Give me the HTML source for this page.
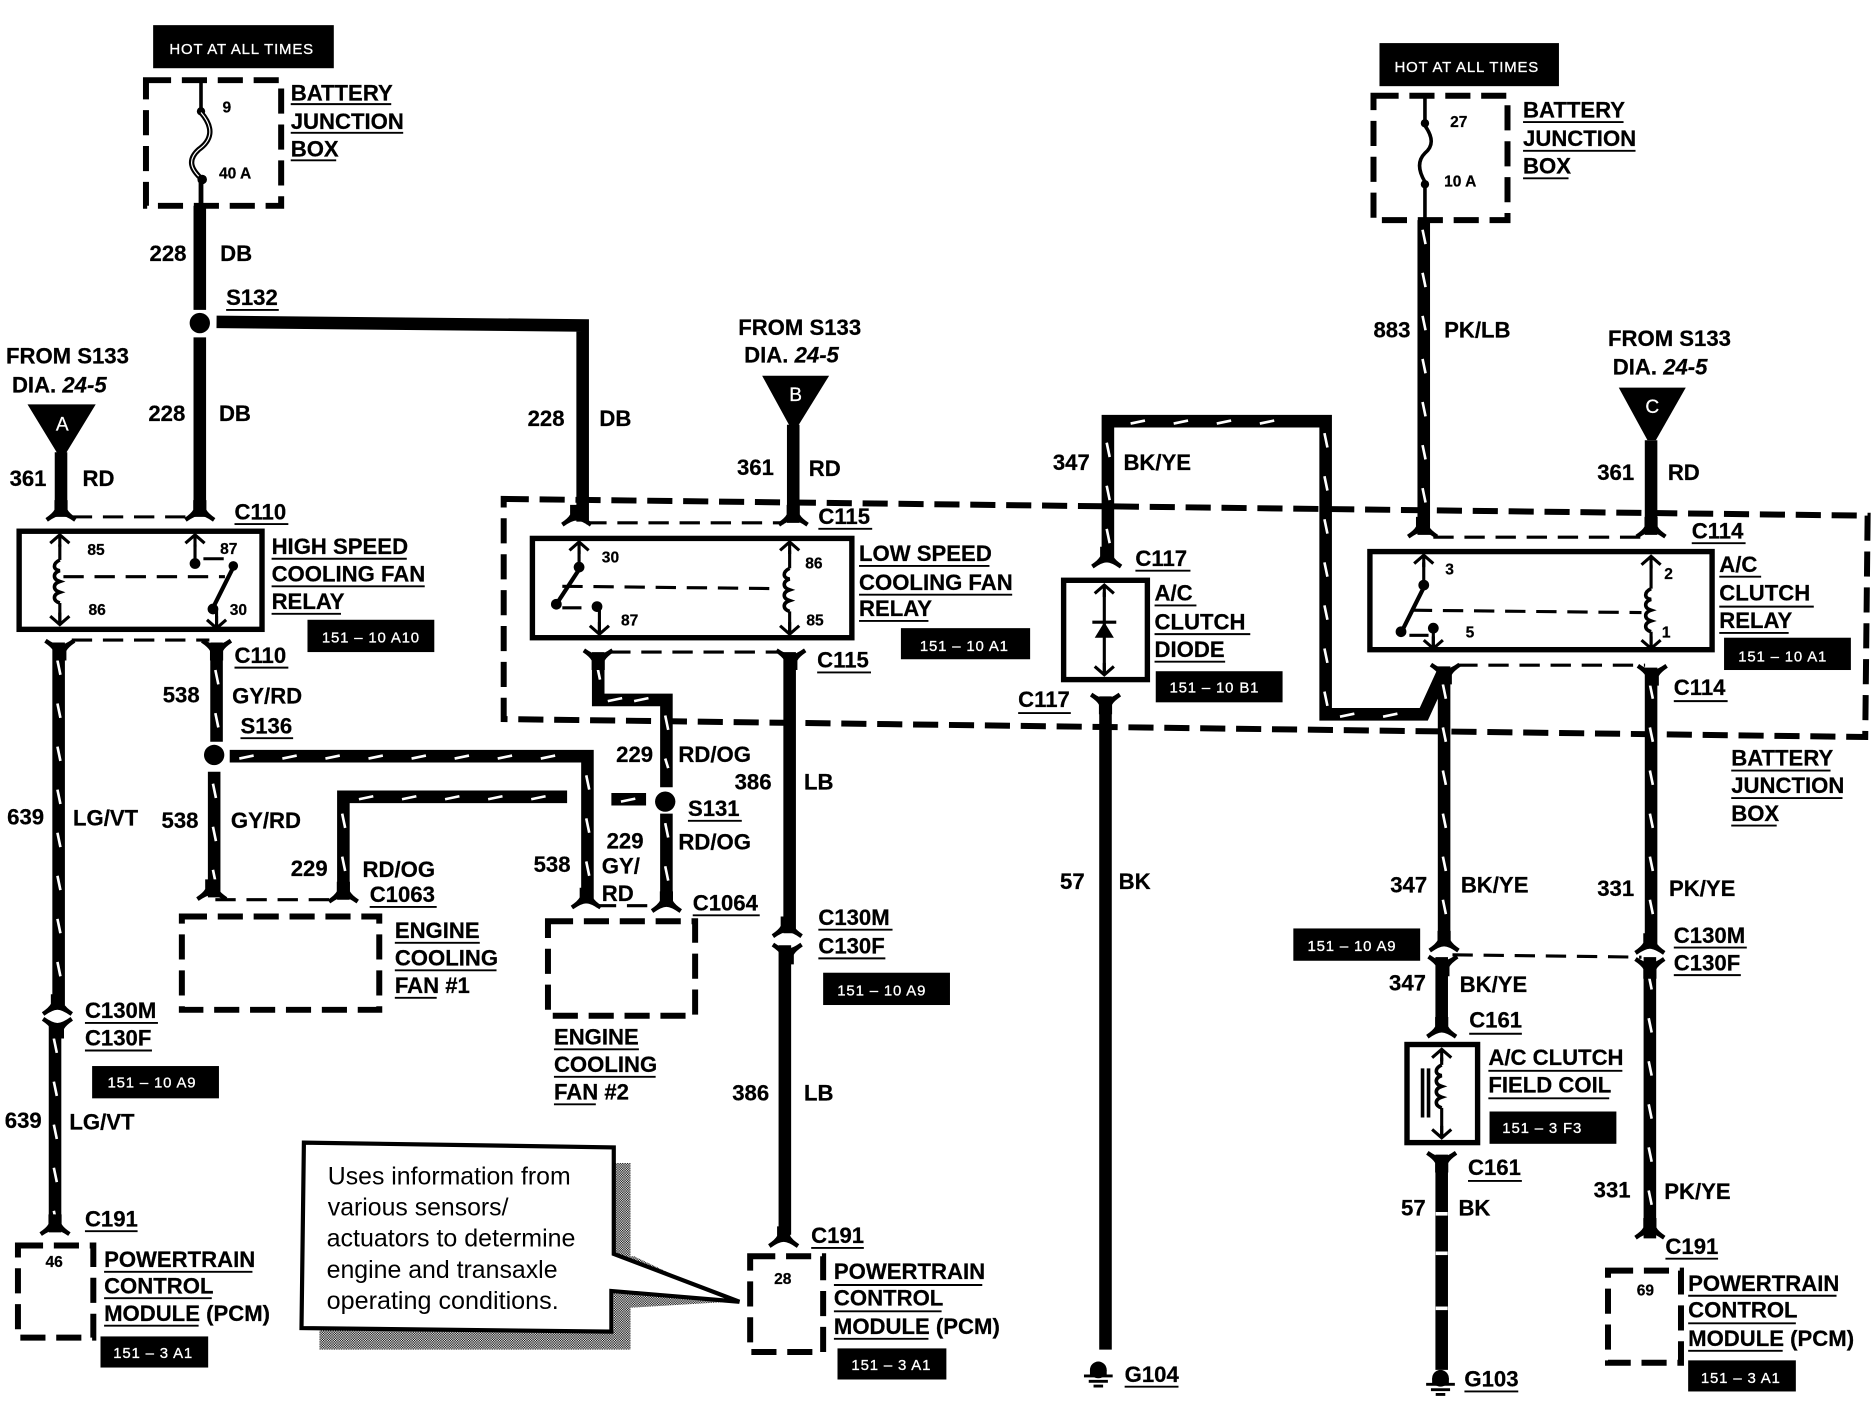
<!DOCTYPE html>
<html lang="en"><head><meta charset="utf-8"><title>Cooling fan wiring diagram</title>
<style>
html,body{margin:0;padding:0;background:#fff}
svg{display:block}
text{font-family:"Liberation Sans",sans-serif;font-weight:700;font-size:18.5px;fill:#000;stroke:#000;stroke-width:.2}
.s{font-size:13px}
.w{fill:#fff;font-size:12.5px;font-weight:400;letter-spacing:.7px;text-anchor:middle;stroke:#fff;stroke-width:.25}
.i{font-style:italic;font-weight:700}
.n{font-weight:400;font-size:20.5px;stroke-width:0}
.u{fill:none;stroke:#000;stroke-width:1.6}
.wire{fill:none;stroke:#000;stroke-width:10.5;stroke-linejoin:miter}
.st{fill:none;stroke:#fff;stroke-width:2.2}
.d{fill:none;stroke:#000;stroke-width:5;stroke-dasharray:21 9}
.d2{fill:none;stroke:#000;stroke-width:2.6;stroke-dasharray:17 9}
.bx{fill:none;stroke:#000;stroke-width:4.5}
.l{fill:none;stroke:#000;stroke-width:2.6}
.c{fill:none;stroke:#000;stroke-width:3}
</style></head><body>
<svg xmlns="http://www.w3.org/2000/svg" width="1876" height="1408" viewBox="0 0 1568 1176.8">
<defs>
<pattern id="g" width="2" height="2" patternUnits="userSpaceOnUse"><rect width="2" height="2" fill="#fff"/><rect width="1" height="1" fill="#000"/><rect x="1" y="1" width="1" height="1" fill="#000"/></pattern>
<g id="fu"><path d="M-5.500 -12V-4Q-7 -1 -13 3L-11 6Q-4 1 0 1Q4 1 11 6L13 3Q7 -1 5.500 -4V-12Z"/></g>
<g id="fd"><path d="M-5.500 12V4Q-7 1 -13 -3L-11 -6Q-4 -1 0 -1Q4 -1 11 -6L13 -3Q7 1 5.500 4V12Z"/></g>
<g id="ar"><path class="l" d="M-8 7L0 0L8 7M0 0V10"/></g>
<g id="ad"><path class="l" d="M-8 -7L0 0L8 -7M0 0V-10"/></g>
<g id="coil"><path class="c" d="M0 0C-6 3 -6 8 0 9C-6 11 -6 16 0 18C-6 20 -6 25 0 27C-6 29 -6 34 0 36"/></g>
<g id="gnd"><circle cx="0" cy="0" r="7"/><path d="M-12 5H12M-8 9.500H8M-4 13.500H4" stroke="#000" stroke-width="2.400" fill="none"/><rect x="-7" y="0" width="14" height="5"/></g>
</defs>

<!-- big junction box -->
<path class="d" d="M421 417L1561 431L1559 616L421 601Z"/>

<!-- solid wires -->
<path class="wire" d="M167 172V259M167 282V432M181 269L487 272V436M51 378V432M663 355V437M1380 368V447M660 545V780M656 790V1032M924 582V1128M1205 800V862M1205 965V1145M1190 184V447"/>
<path class="wire" d="M49 537V840M46 855V1030M181 537V620M179 645V750M192 632H491V755M287 752V666H474M511 668H540M557 750V680M557 658V585H500V545M926 470V352H1108V597H1190L1206 562M1207 557V790M1380 558V790M1379 800V1035"/>
<!-- tilted stripe ticks, vertical runs -->
<path class="st" d="M48 552l2.500 12m-2.500 24l2.500 12m-2.500 24l2.500 12m-2.500 24l2.500 12m-2.500 24l2.500 12m-2.500 24l2.500 12m-2.500 24l2.500 12m-2.500 24l2.500 12
M45 868l2.500 12m-2.500 24l2.500 12m-2.500 24l2.500 12m-2.500 24l2.500 12m-2.500 24l2.500 12
M180 560l2.500 12m-2.500 24l2.500 12
M178 655l2.500 12m-2.500 24l2.500 12m-2.500 24l2.500 12
M490 648l2.500 12m-2.500 24l2.500 12m-2.500 24l2.500 12
M286 680l2.500 12m-2.500 24l2.500 12
M556 598l2.500 12m-2.500 24l2.500 8M556 688l2.500 12m-2.500 24l2.500 12
M499 556l2.500 12
M925 370l2.500 12m-2.500 24l2.500 12m-2.500 24l2.500 12
M1107 362l2.500 12m-2.500 24l2.500 12m-2.500 24l2.500 12m-2.500 24l2.500 12m-2.500 24l2.500 12m-2.500 24l2.500 12m-2.500 24l2.500 12
M1206 572l2.500 12m-2.500 24l2.500 12m-2.500 24l2.500 12m-2.500 24l2.500 12m-2.500 24l2.500 12m-2.500 24l2.500 12
M1379 572l2.500 12m-2.500 24l2.500 12m-2.500 24l2.500 12m-2.500 24l2.500 12m-2.500 24l2.500 12m-2.500 24l2.500 12
M1378 815l2.500 12m-2.500 24l2.500 12m-2.500 24l2.500 12m-2.500 24l2.500 12m-2.500 24l2.500 12m-2.500 24l2.500 12
M1189 192l2.500 12m-2.500 24l2.500 12m-2.500 24l2.500 12m-2.500 24l2.500 12m-2.500 24l2.500 12m-2.500 24l2.500 12m-2.500 24l2.500 12"/>
<!-- tilted stripe ticks, horizontal runs -->
<path class="st" d="M200 634l12 -2.500m24 2.500l12 -2.500m24 2.500l12 -2.500m24 2.500l12 -2.500m24 2.500l12 -2.500m24 2.500l12 -2.500m24 2.500l12 -2.500m24 2.500l12 -2.500
M300 668l12 -2.500m24 2.500l12 -2.500m24 2.500l12 -2.500m24 2.500l12 -2.500m24 2.500l12 -2.500
M519 670l12 -2.500
M508 586l12 -2.500M530 586l12 -2.500
M945 354l12 -2.500m24 2.500l12 -2.500m24 2.500l12 -2.500m24 2.500l12 -2.500
M1120 599l12 -2.500m24 2.500l12 -2.500"/>
<rect x="1200" y="1013" width="10" height="3" fill="#fff"/><rect x="1200" y="1046" width="10" height="3" fill="#fff"/><rect x="1200" y="1092" width="10" height="3" fill="#fff"/>

<!-- splices -->
<circle cx="167" cy="270" r="8.500"/><circle cx="179" cy="631" r="8.500"/><circle cx="556" cy="670" r="8.500"/>

<!-- forks -->
<use href="#fu" x="51" y="430"/><use href="#fu" x="167" y="430"/><use href="#fu" x="482" y="434"/><use href="#fu" x="663" y="434"/>
<use href="#fu" x="1189" y="444"/><use href="#fu" x="1380" y="444"/><use href="#fu" x="925" y="469"/><use href="#fu" x="1205" y="862"/>
<use href="#fu" x="177" y="747"/><use href="#fu" x="287" y="749"/><use href="#fu" x="490" y="754"/><use href="#fu" x="557" y="757"/>
<use href="#fu" x="46" y="1027"/><use href="#fu" x="655" y="1037"/><use href="#fu" x="1379" y="1030"/>
<use href="#fu" x="658" y="778"/><use href="#fu" x="48" y="843"/><use href="#fu" x="1207" y="790"/><use href="#fu" x="1379" y="792"/>
<use href="#fd" x="50" y="540"/><use href="#fd" x="181" y="540"/><use href="#fd" x="500" y="548"/><use href="#fd" x="661" y="548"/>
<use href="#fd" x="1208" y="560"/><use href="#fd" x="1381" y="561"/><use href="#fd" x="924" y="585"/><use href="#fd" x="1205" y="968"/>
<use href="#fd" x="658" y="794"/><use href="#fd" x="48" y="856"/><use href="#fd" x="1206" y="804"/><use href="#fd" x="1379" y="806"/>

<!-- connector dashes -->
<path class="d2" d="M60 432H160M60 535H175M490 437H655M510 545H650M1198 449H1372M1218 556H1375M180 752H282M498 757H550M1214 798L1372 800"/>

<!-- HOT boxes -->
<rect x="128" y="21" width="151" height="36"/><text class="w" x="202" y="45">HOT AT ALL TIMES</text>
<rect x="1153" y="36" width="150" height="36"/><text class="w" x="1226" y="60">HOT AT ALL TIMES</text>

<!-- fuse boxes -->
<rect class="d" x="122" y="67" width="113" height="105"/>
<path d="M168 67V92" stroke="#000" stroke-width="3"/><circle cx="168" cy="93" r="3.500"/>
<path fill="none" stroke="#000" stroke-width="4.500" d="M168 94C180 108 176 118 166 125C156 134 160 142 169 150"/>
<path fill="none" stroke="#fff" stroke-width="1" d="M168 94C180 108 176 118 166 125C156 134 160 142 169 150"/>
<circle cx="169" cy="150" r="4"/>
<path d="M168 150V172" stroke="#000" stroke-width="4"/>
<text class="s" x="186" y="94">9</text><text class="s" x="183" y="149">40 A</text>
<rect class="d" x="1148" y="80" width="112" height="104"/>
<path d="M1191 82V103M1191 154V184" stroke="#000" stroke-width="3"/><circle cx="1191" cy="103" r="3.500"/><circle cx="1191" cy="154" r="3.500"/>
<path d="M1191 105C1198 115 1198 122 1191 128C1185 134 1185 142 1191 152" stroke="#000" stroke-width="3" fill="none"/>
<text class="s" x="1212" y="106">27</text><text class="s" x="1207" y="156">10 A</text>

<!-- triangles -->
<path d="M23 338H80L55 379H48Z"/><path d="M637 314H693L667 356H660Z"/><path d="M1353 324H1409L1384 368H1377Z"/>
<text x="52" y="360" text-anchor="middle" style="fill:#fff;stroke:#fff;font-weight:400;font-size:16px">A</text>
<text x="665" y="335" text-anchor="middle" style="fill:#fff;stroke:#fff;font-weight:400;font-size:16px">B</text>
<text x="1381" y="345" text-anchor="middle" style="fill:#fff;stroke:#fff;font-weight:400;font-size:16px">C</text>

<!-- high speed relay -->
<rect class="bx" x="16" y="444" width="203" height="82"/>
<use href="#ar" x="50" y="447"/><path class="l" d="M50 455V468"/><use href="#coil" x="50" y="468"/><path class="l" d="M50 504V522"/><use href="#ad" x="50" y="522"/>
<path class="d2" d="M53 482H188"/>
<use href="#ar" x="163" y="447"/><path class="l" d="M163 455V470"/><circle cx="163" cy="471" r="4.500"/><path class="d2" d="M170 467H188"/>
<circle cx="195" cy="473" r="4"/><path stroke="#000" stroke-width="3.500" d="M195 474L178 508"/><circle cx="178" cy="509" r="4.500"/>
<path class="l" d="M181 510V525"/><use href="#ad" x="181" y="525"/>
<text class="s" x="73" y="464">85</text><text class="s" x="184" y="463">87</text><text class="s" x="74" y="514">86</text><text class="s" x="192" y="514">30</text>

<!-- low speed relay -->
<rect class="bx" x="445" y="450" width="267" height="83"/>
<use href="#ar" x="484" y="453"/><path class="l" d="M484 460V475"/><circle cx="484" cy="474" r="4.500"/><path stroke="#000" stroke-width="3.500" d="M484 476L465 505"/><circle cx="465" cy="505" r="4.500"/>
<path class="d2" d="M470 508H486"/><circle cx="499" cy="507" r="4.500"/><path class="l" d="M501 508V529"/><use href="#ad" x="501" y="530"/>
<path class="d2" d="M470 490L652 492"/>
<use href="#ar" x="660" y="453"/><path class="l" d="M660 460V475"/><use href="#coil" x="660" y="475"/><path class="l" d="M660 511V530"/><use href="#ad" x="660" y="530"/>
<text class="s" x="503" y="470">30</text><text class="s" x="673" y="475">86</text><text class="s" x="519" y="523">87</text><text class="s" x="674" y="523">85</text>

<!-- AC relay -->
<rect class="bx" x="1145" y="461" width="286" height="82"/>
<use href="#ar" x="1190" y="464"/><path class="l" d="M1190 470V490"/><circle cx="1190" cy="489" r="4.500"/><path stroke="#000" stroke-width="3.500" d="M1190 491L1172 527"/><circle cx="1171" cy="528" r="4.500"/>
<path class="d2" d="M1178 531H1194"/><circle cx="1198" cy="525" r="4.500"/><path class="l" d="M1198 527V540"/><use href="#ad" x="1198" y="542"/>
<path class="d2" d="M1180 510L1372 512"/>
<use href="#ar" x="1380" y="465"/><path class="l" d="M1380 472V492"/><use href="#coil" x="1380" y="492"/><path class="l" d="M1380 528V542"/><use href="#ad" x="1380" y="542"/>
<text class="s" x="1208" y="480">3</text><text class="s" x="1391" y="484">2</text><text class="s" x="1225" y="533">5</text><text class="s" x="1389" y="533">1</text>

<!-- diode -->
<rect class="bx" x="889" y="485" width="70" height="83"/>
<use href="#ar" x="923" y="489"/><path class="l" d="M923 495V562"/><use href="#ad" x="923" y="564"/>
<path d="M915 533H931L923 520Z"/><path d="M913 520H933" stroke="#000" stroke-width="2.600"/>

<!-- field coil -->
<rect class="bx" x="1176" y="873" width="59" height="82"/>
<use href="#ar" x="1205" y="877"/><use href="#coil" x="1205" y="890"/><path class="l" d="M1205 884V890M1205 926V950"/><use href="#ad" x="1205" y="951"/>
<path d="M1189 893V934M1194 893V934" stroke="#000" stroke-width="3"/>

<!-- fans and PCM -->
<rect class="d" x="152" y="766" width="165" height="78"/>
<rect class="d" x="458" y="770" width="123" height="79"/>
<rect class="d" x="15" y="1041" width="63" height="77"/>
<rect class="d" x="627" y="1050" width="61" height="80"/>
<rect class="d" x="1344" y="1062" width="61" height="77"/>
<text class="s" x="38" y="1059">46</text><text class="s" x="647" y="1073">28</text><text class="s" x="1368" y="1083">69</text>

<!-- grounds -->
<use href="#gnd" x="918" y="1145"/><use href="#gnd" x="1204" y="1152"/>

<!-- callout -->
<path fill="url(#g)" d="M513 972H527V1050L530 1050L610 1088L527 1093V1128H267V1112H513Z"/>
<path fill="#fff" stroke="#000" stroke-width="3.500" d="M254 955L513 959V1048L618 1088L511 1079V1113L252 1110Z"/>
<text class="n" x="274" y="990" textLength="203" lengthAdjust="spacingAndGlyphs">Uses information from</text>
<text class="n" x="274" y="1016" textLength="151" lengthAdjust="spacingAndGlyphs">various sensors/</text>
<text class="n" x="273" y="1042" textLength="208" lengthAdjust="spacingAndGlyphs">actuators to determine</text>
<text class="n" x="273" y="1068" textLength="193" lengthAdjust="spacingAndGlyphs">engine and transaxle</text>
<text class="n" x="273" y="1094" textLength="194" lengthAdjust="spacingAndGlyphs">operating conditions.</text>

<!-- black label boxes -->
<rect x="257" y="518" width="106" height="27"/><text class="w" x="310" y="537">151 – 10 A10</text>
<rect x="753" y="525" width="108" height="26"/><text class="w" x="806" y="544">151 – 10 A1</text>
<rect x="688" y="813" width="106" height="27"/><text class="w" x="737" y="832">151 – 10 A9</text>
<rect x="77" y="891" width="106" height="27"/><text class="w" x="127" y="909">151 – 10 A9</text>
<rect x="84" y="1117" width="90" height="26"/><text class="w" x="128" y="1135">151 – 3 A1</text>
<rect x="700" y="1127" width="91" height="26"/><text class="w" x="745" y="1145">151 – 3 A1</text>
<rect x="966" y="561" width="106" height="26"/><text class="w" x="1015" y="579">151 – 10 B1</text>
<rect x="1441" y="533" width="106" height="27"/><text class="w" x="1490" y="553">151 – 10 A1</text>
<rect x="1081" y="776" width="106" height="27"/><text class="w" x="1130" y="795">151 – 10 A9</text>
<rect x="1245" y="929" width="106" height="27"/><text class="w" x="1289" y="947">151 – 3 F3</text>
<rect x="1411" y="1137" width="90" height="26"/><text class="w" x="1455" y="1156">151 – 3 A1</text>

<!-- labels left -->
<text x="243" y="84">BATTERY</text><text x="243" y="108">JUNCTION</text><text x="243" y="131">BOX</text>
<path class="u" d="M243 87H327M243 111H337M243 134H281"/>
<text x="125" y="218">228</text><text x="184" y="218">DB</text>
<text x="189" y="255">S132</text><path class="u" d="M189 259H233"/>
<text x="124" y="352">228</text><text x="183" y="352">DB</text>
<text x="5" y="304">FROM S133</text><text x="10" y="328">DIA. <tspan class="i">24-5</tspan></text>
<text x="8" y="406">361</text><text x="69" y="406">RD</text>
<text x="196" y="434">C110</text><path class="u" d="M196 438H241"/>
<text x="227" y="463">HIGH SPEED</text><text x="227" y="486">COOLING FAN</text><text x="227" y="509">RELAY</text>
<path class="u" d="M227 467H340M227 490H355M227 513H285"/>
<text x="196" y="554">C110</text><path class="u" d="M196 558H241"/>
<text x="136" y="587">538</text><text x="194" y="588">GY/RD</text>
<text x="201" y="613">S136</text><path class="u" d="M201 617H245"/>
<text x="6" y="689">639</text><text x="61" y="690">LG/VT</text>
<text x="135" y="692">538</text><text x="193" y="692">GY/RD</text>
<text x="243" y="732">229</text><text x="303" y="733">RD/OG</text>
<text x="309" y="754">C1063</text><path class="u" d="M309 758H365"/>
<text x="330" y="784">ENGINE</text><text x="330" y="807">COOLING</text><text x="330" y="830">FAN #1</text>
<path class="u" d="M330 788H401M330 811H415M330 834H365"/>
<text x="71" y="851">C130M</text><text x="71" y="874">C130F</text><path class="u" d="M71 855H132M71 878H127"/>
<text x="4" y="943">639</text><text x="58" y="944">LG/VT</text>
<text x="71" y="1025">C191</text><path class="u" d="M71 1029H115"/>
<text x="87" y="1059">POWERTRAIN</text><text x="87" y="1081">CONTROL</text><text x="87" y="1104">MODULE (PCM)</text>
<path class="u" d="M87 1063H211M87 1085H177M87 1108H166"/>

<!-- labels middle -->
<text x="441" y="356">228</text><text x="501" y="356">DB</text>
<text x="617" y="280">FROM S133</text><text x="622" y="303">DIA. <tspan class="i">24-5</tspan></text>
<text x="616" y="397">361</text><text x="676" y="398">RD</text>
<text x="684" y="438">C115</text><path class="u" d="M684 442H729"/>
<text x="718" y="469">LOW SPEED</text><text x="718" y="493">COOLING FAN</text><text x="718" y="515">RELAY</text>
<path class="u" d="M718 473H827M718 497H846M718 519H776"/>
<text x="683" y="558">C115</text><path class="u" d="M683 562H728"/>
<text x="515" y="637">229</text><text x="567" y="637">RD/OG</text>
<text x="614" y="660">386</text><text x="672" y="660">LB</text>
<text x="575" y="682">S131</text><path class="u" d="M575 686H620"/>
<text x="507" y="709">229</text><text x="567" y="710">RD/OG</text>
<text x="503" y="730">GY/</text><text x="503" y="753">RD</text>
<text x="446" y="729">538</text>
<text x="579" y="761">C1064</text><path class="u" d="M579 765H635"/>
<text x="463" y="873">ENGINE</text><text x="463" y="896">COOLING</text><text x="463" y="919">FAN #2</text>
<path class="u" d="M463 877H534M463 900H548M463 923H498"/>
<text x="684" y="773">C130M</text><text x="684" y="797">C130F</text><path class="u" d="M684 777H746M684 801H740"/>
<text x="612" y="920">386</text><text x="672" y="920">LB</text>
<text x="678" y="1039">C191</text><path class="u" d="M678 1043H722"/>
<text x="697" y="1069">POWERTRAIN</text><text x="697" y="1091">CONTROL</text><text x="697" y="1115">MODULE (PCM)</text>
<path class="u" d="M697 1074H821M697 1096H787M697 1119H776"/>

<!-- labels diode -->
<text x="880" y="393">347</text><text x="939" y="393">BK/YE</text>
<text x="949" y="473">C117</text><path class="u" d="M949 477H995"/>
<text x="965" y="502">A/C</text><text x="965" y="526">CLUTCH</text><text x="965" y="549">DIODE</text>
<path class="u" d="M965 506H1000M965 530H1045M965 553H1024"/>
<text x="851" y="591">C117</text><path class="u" d="M851 596H895"/>
<text x="886" y="743">57</text><text x="935" y="743">BK</text>
<text x="940" y="1155">G104</text><path class="u" d="M940 1159H985"/>

<!-- labels right -->
<text x="1273" y="98">BATTERY</text><text x="1273" y="122">JUNCTION</text><text x="1273" y="145">BOX</text>
<path class="u" d="M1273 102H1357M1273 126H1367M1273 149H1311"/>
<text x="1148" y="282">883</text><text x="1207" y="282">PK/LB</text>
<text x="1344" y="289">FROM S133</text><text x="1348" y="313">DIA. <tspan class="i">24-5</tspan></text>
<text x="1335" y="401">361</text><text x="1394" y="401">RD</text>
<text x="1414" y="450">C114</text><path class="u" d="M1414 454H1459"/>
<text x="1437" y="478">A/C</text><text x="1437" y="502">CLUTCH</text><text x="1437" y="525">RELAY</text>
<path class="u" d="M1437 482H1472M1437 507H1516M1437 529H1495"/>
<text x="1399" y="581">C114</text><path class="u" d="M1399 586H1444"/>
<text x="1447" y="640">BATTERY</text><text x="1447" y="663">JUNCTION</text><text x="1447" y="686">BOX</text>
<path class="u" d="M1447 644H1530M1447 667H1540M1447 690H1485"/>
<text x="1162" y="746">347</text><text x="1221" y="746">BK/YE</text>
<text x="1335" y="749">331</text><text x="1395" y="749">PK/YE</text>
<text x="1399" y="788">C130M</text><text x="1399" y="811">C130F</text><path class="u" d="M1399 792H1460M1399 815H1455"/>
<text x="1161" y="828">347</text><text x="1220" y="829">BK/YE</text>
<text x="1228" y="859">C161</text><path class="u" d="M1228 864H1272"/>
<text x="1244" y="890">A/C CLUTCH</text><text x="1244" y="913">FIELD COIL</text>
<path class="u" d="M1244 895H1356M1244 918H1345"/>
<text x="1227" y="982">C161</text><path class="u" d="M1227 987H1272"/>
<text x="1171" y="1016">57</text><text x="1219" y="1016">BK</text>
<text x="1332" y="1001">331</text><text x="1391" y="1002">PK/YE</text>
<text x="1392" y="1048">C191</text><path class="u" d="M1392 1052H1436"/>
<text x="1411" y="1079">POWERTRAIN</text><text x="1411" y="1101">CONTROL</text><text x="1411" y="1125">MODULE (PCM)</text>
<path class="u" d="M1411 1083H1535M1411 1106H1501M1411 1129H1490"/>
<text x="1224" y="1159">G103</text><path class="u" d="M1224 1163H1269"/>
</svg>
</body></html>
